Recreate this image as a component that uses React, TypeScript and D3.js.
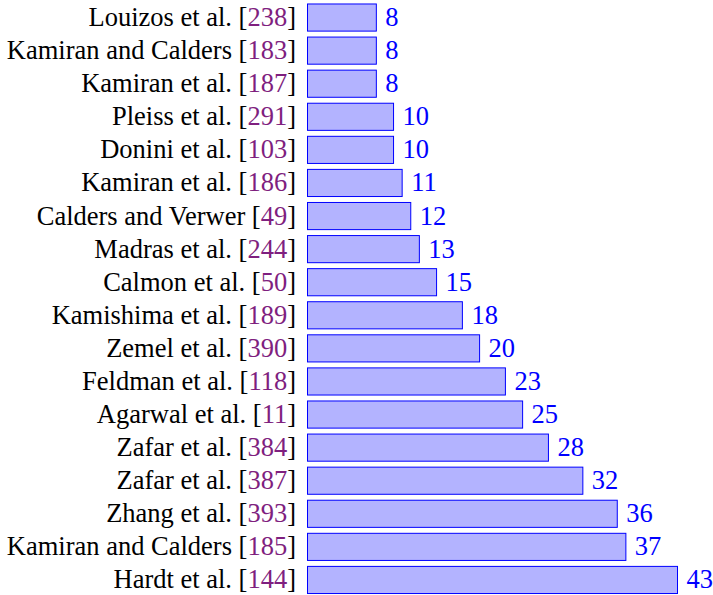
import React from "react";
import * as d3 from "d3";

const authors = [
  "Louizos et al.",
  "Kamiran and Calders",
  "Kamiran et al.",
  "Pleiss et al.",
  "Donini et al.",
  "Kamiran et al.",
  "Calders and Verwer",
  "Madras et al.",
  "Calmon et al.",
  "Kamishima et al.",
  "Zemel et al.",
  "Feldman et al.",
  "Agarwal et al.",
  "Zafar et al.",
  "Zafar et al.",
  "Zhang et al.",
  "Kamiran and Calders",
  "Hardt et al.",
];
const refs = ["238", "183", "187", "291", "103", "186", "49", "244", "50", "189", "390", "118", "11", "384", "387", "393", "185", "144"];
const values = [8, 8, 8, 10, 10, 11, 12, 13, 15, 18, 20, 23, 25, 28, 32, 36, 37, 43];

const W = 713;
const H = 595;
const FONT = { fontFamily: "Liberation Serif" };

export default function App() {
  const x = d3.scaleLinear().domain([0, 43]).range([307.5, 677.5]);
  const y = d3
    .scaleBand<number>()
    .domain(d3.range(values.length))
    .range([1, 596.5])
    .paddingInner(0.18)
    .paddingOuter(0.09);
  const fs = 26.5;
  return (
    <svg width={W} height={H} style={{ position: "absolute", left: 0, top: 0 }}>
      {values.map((v, i) => {
        const yc = (y(i) as number) + y.bandwidth() / 2;
        return (
          <g key={i}>
            <rect
              x={x(0)}
              y={y(i)}
              width={x(v) - x(0)}
              height={y.bandwidth()}
              fill="#b3b3ff"
              stroke="#0000ff"
              strokeWidth={1}
            />
            <text x={x(v) + 9} y={yc} dy="0.32em" fill="#0000ff" fontSize={fs} style={FONT}>
              {v}
            </text>
            <text x={296} y={yc} dy="0.32em" textAnchor="end" fontSize={fs} fill="#000" style={FONT}>
              {authors[i] + " ["}
              <tspan fill="#7f1f7f">{refs[i]}</tspan>
              {"]"}
            </text>
          </g>
        );
      })}
    </svg>
  );
}
